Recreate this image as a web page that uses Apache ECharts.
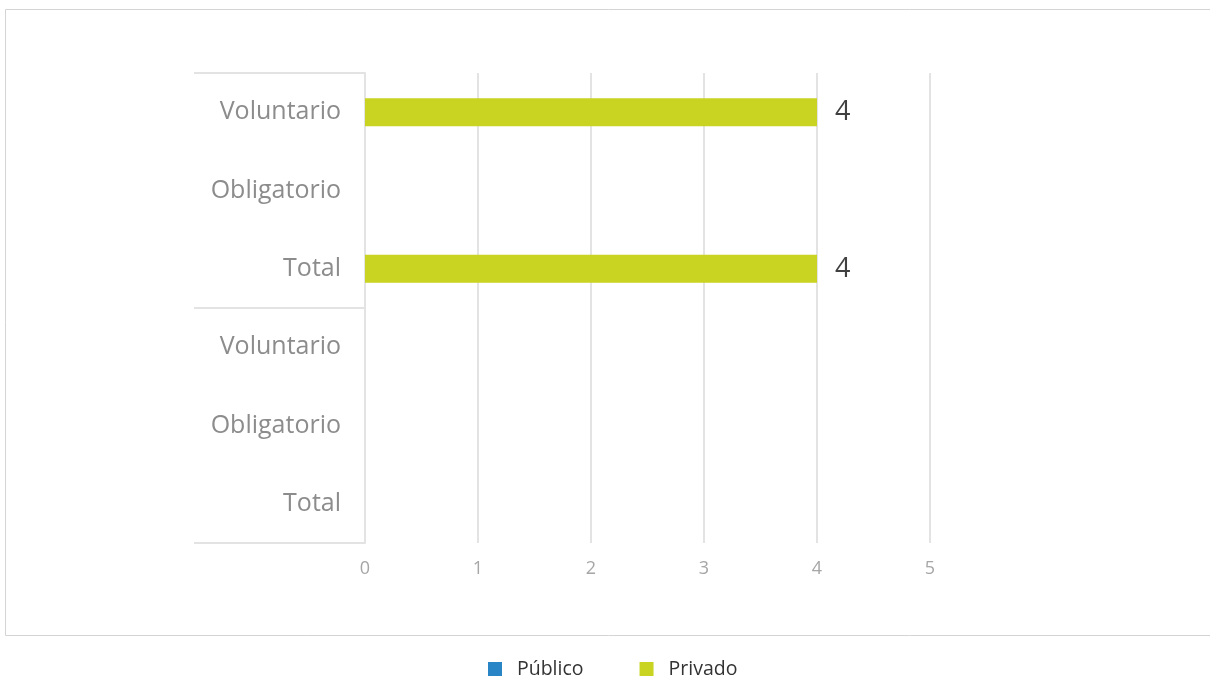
<!DOCTYPE html>
<html>
<head>
<meta charset="utf-8">
<script src="https://cdn.jsdelivr.net/npm/echarts@6/dist/echarts.min.js"></script>
<style>
html,body{margin:0;padding:0;background:#fff;}
#c{width:1210px;height:677px;}
</style>
</head>
<body>
<div id="c"></div>
<script>
const categories = ['Voluntario', 'Obligatorio', 'Total', 'Voluntario', 'Obligatorio', 'Total'];
const groups = ['', ''];
const publico = [null, null, null, null, null, null];
const privado = [4, null, 4, null, null, null];
const xTicks = [0, 1, 2, 3, 4, 5];

const chart = echarts.init(document.getElementById('c'));
const font = '"Open Sans", Lato, sans-serif';
chart.setOption({
  animation: false,
  graphic: [{
    type: 'rect',
    shape: { x: 5.5, y: 9.5, width: 1220, height: 626 },
    style: { fill: 'none', stroke: '#d4d4d4', lineWidth: 1 },
    silent: true
  }],
  grid: { left: 365, right: 280, top: 73, bottom: 134, containLabel: false },
  legend: {
    top: 654,
    left: 483,
    itemWidth: 14,
    itemHeight: 14,
    itemGap: 56,
    icon: 'rect',
    textStyle: { color: '#333', fontSize: 19.5, fontFamily: font, padding: [0, 0, 0, 10] },
    data: ['Público', 'Privado']
  },
  xAxis: {
    type: 'value',
    min: xTicks[0],
    max: xTicks[xTicks.length - 1],
    interval: 1,
    axisLine: { show: false },
    axisTick: { show: false },
    splitLine: { show: true, lineStyle: { color: '#e3e3e3', width: 2 } },
    axisLabel: { color: '#a6a6a6', fontSize: 18, fontFamily: font, margin: 17 }
  },
  yAxis: [{
    type: 'category',
    data: categories,
    inverse: true,
    axisLine: { show: true, lineStyle: { color: '#e3e3e3', width: 2 } },
    axisTick: { show: false },
    axisLabel: { color: '#8c8c8c', fontSize: 25, fontFamily: font, margin: 24 }
  }, {
    type: 'category',
    data: groups,
    inverse: true,
    position: 'left',
    axisLine: { show: false },
    axisTick: { show: true, length: 171, lineStyle: { color: '#e3e3e3', width: 2 } },
    axisLabel: { show: false }
  }],
  series: [{
    name: 'Público',
    type: 'bar',
    data: publico,
    barWidth: 28,
    barGap: '-100%',
    itemStyle: { color: '#2a85c7' }
  }, {
    name: 'Privado',
    type: 'bar',
    data: privado,
    barWidth: 28,
    itemStyle: { color: '#c9d321' },
    label: {
      show: true,
      position: 'right',
      distance: 18,
      color: '#404040',
      fontSize: 27,
      fontFamily: font
    }
  }]
});
</script>
</body>
</html>
